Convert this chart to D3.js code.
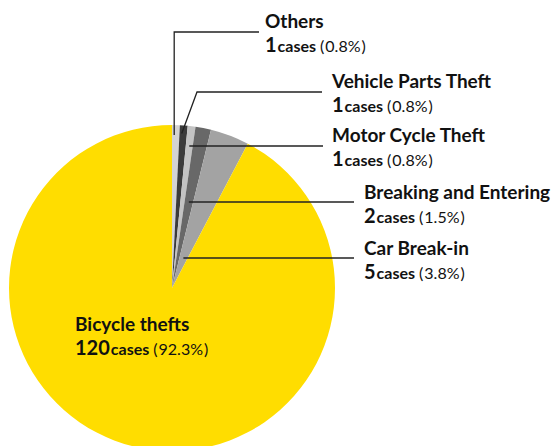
<!DOCTYPE html>
<html>
<head>
<meta charset="utf-8">
<script src="https://cdn.jsdelivr.net/npm/d3@7"></script>
<style>
  body { margin: 0; background: #fff; }
  svg text { font-family: Lato, "Noto Sans", sans-serif; fill: #111; }
</style>
</head>
<body>
<div id="chart"></div>
<script>
(function() {
    // data, clockwise from 12 o'clock
    const categories = ["Others", "Vehicle Parts Theft", "Motor Cycle Theft", "Breaking and Entering", "Car Break-in", "Bicycle thefts"];
    const cases = [1, 1, 1, 2, 5, 120];
    const percents = ["0.8%", "0.8%", "0.8%", "1.5%", "3.8%", "92.3%"];
    const colors = ["#d3d3d3", "#3b3b3b", "#c3c3c3", "#686868", "#a3a3a3", "#ffdd00"];

    let dim = { "width": 555, "height": 446 };
    let cx = 172, cy = 288, radius = 163;

    let svg = d3.select('#chart').append('svg').attr('width', dim.width).attr('height', dim.height);

    let pie = d3.pie().sort(null).value(d => d.value);
    let arc = d3.arc().innerRadius(0).outerRadius(radius);

    let data = categories.map((c, i) => ({ name: c, value: cases[i], pct: percents[i], color: colors[i] }));
    let arcs = pie(data);

    let g = svg.append('g').attr('transform', `translate(${cx},${cy})`);
    g.selectAll('path')
      .data(arcs)
      .enter()
      .append('path')
      .attr('d', arc)
      .attr('fill', d => d.data.color);

    // label layout: text pos + leader line level
    const labels = [
      { x: 265, y: 29, lineY: 32, kind: "elbow", lineEnd: 259, r: 153 },
      { x: 332, y: 89, lineY: 92, kind: "slant", lineEnd: 322, r: 155, bendX: 197 },
      { x: 332, y: 143, lineY: 146, kind: "flat", lineEnd: 323 },
      { x: 364, y: 200, lineY: 202, kind: "flat", lineEnd: 354 },
      { x: 364, y: 256, lineY: 258, kind: "flat", lineEnd: 354 },
      { x: 75, y: 332, kind: "none" }
    ];

    const mid = d => (d.startAngle + d.endAngle) / 2;
    let lines = svg.append('g').attr('stroke', '#222').attr('stroke-width', 1.3).attr('fill', 'none');

    arcs.forEach((d, i) => {
      let L = labels[i];
      let a = mid(d);
      if (L.kind === "flat") {
        let dy = cy - L.lineY;
        let x0 = cx + dy * Math.tan(a);
        lines.append('path').attr('d', `M${x0},${L.lineY}H${L.lineEnd}`);
      } else if (L.kind === "elbow") {
        let x0 = cx + L.r * Math.sin(a) - 1.5;
        let y0 = cy - L.r * Math.cos(a);
        lines.append('path').attr('d', `M${x0},${y0}V${L.lineY}H${L.lineEnd}`);
      } else if (L.kind === "slant") {
        let x0 = cx + L.r * Math.sin(a) - 1.5;
        let y0 = cy - L.r * Math.cos(a);
        lines.append('path').attr('d', `M${x0},${y0}L${L.bendX},${L.lineY}H${L.lineEnd}`);
      }

      // one text block, two lines
      let t = svg.append('text').attr('x', L.x).attr('y', L.y - 1);
      t.append('tspan').attr('font-weight', 700).attr('font-size', 19).text(d.data.name);
      t.append('tspan').attr('x', L.x).attr('dy', 24).attr('font-weight', 700).attr('font-size', 20).text(d.data.value);
      t.append('tspan').attr('font-weight', 700).attr('font-size', 16).attr('dx', 1).text('cases');
      t.append('tspan').attr('font-weight', 400).attr('font-size', 16).attr('dx', 4).text('(');
      t.append('tspan').attr('font-weight', 400).attr('font-size', 16).attr('dx', 1).text(d.data.pct);
      t.append('tspan').attr('font-weight', 400).attr('font-size', 16).attr('dx', 1).text(')');
    });
})();
</script>
</body>
</html>
